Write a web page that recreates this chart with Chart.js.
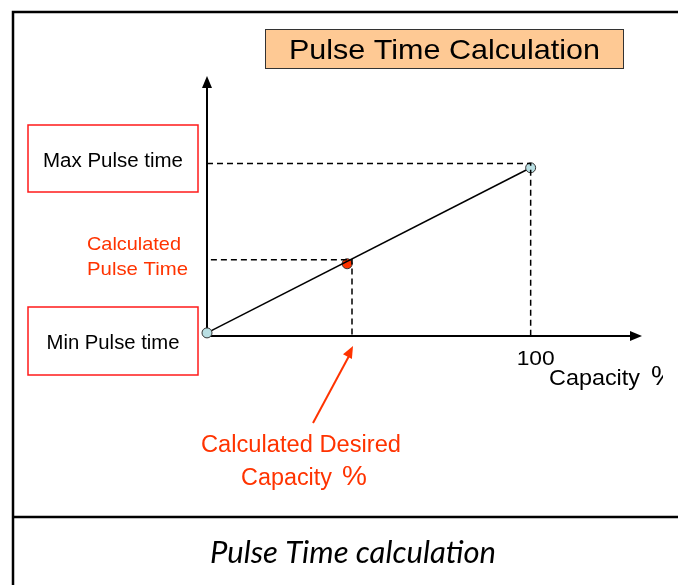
<!DOCTYPE html>
<html>
<head>
<meta charset="utf-8">
<script src="https://cdn.jsdelivr.net/npm/chart.js@4"></script>
<style>
  html, body { margin: 0; padding: 0; background: #fff; }
  canvas { display: block; }
</style>
</head>
<body>
<canvas id="pulseChart" width="678" height="585"></canvas>
<script>
// capacity (%) against pulse time
const capacity = [0, 100];
const pulseTime = [1.2, 65.2];
const desiredCapacity = [43.3];
const calculatedPulse = [28];
// dashed guide levels
const maxGuideY = 66.9;
const calcGuideY = 29.6;
const calcGuideX = 44.8;
const xTickLabel = "100";

const ARIAL = '"Liberation Sans", Arial, sans-serif';
const RED = "#ff3300";

// text squeezed/stretched to a given width, drawn on its baseline
function fitText(ctx, text, x, y, width, font, align) {
  ctx.save();
  ctx.font = font;
  ctx.textAlign = "left";
  ctx.textBaseline = "alphabetic";
  const w = ctx.measureText(text).width;
  let left = x;
  if (align === "center") left = x - width / 2;
  ctx.translate(left, y);
  ctx.scale(width / w, 1);
  ctx.fillText(text, 0, 0);
  ctx.restore();
}

function arrowHead(ctx, x1, y1, x2, y2, len, half) {
  const a = Math.atan2(y2 - y1, x2 - x1);
  ctx.beginPath();
  ctx.moveTo(x2, y2);
  ctx.lineTo(x2 - len * Math.cos(a) + half * Math.sin(a), y2 - len * Math.sin(a) - half * Math.cos(a));
  ctx.lineTo(x2 - len * Math.cos(a) - half * Math.sin(a), y2 - len * Math.sin(a) + half * Math.cos(a));
  ctx.closePath();
  ctx.fill();
}

function labelBox(ctx, x, y, w, h, text, textW, baseline) {
  ctx.strokeStyle = "#ff1a1a";
  ctx.lineWidth = 1.5;
  ctx.strokeRect(x, y, w, h);
  ctx.fillStyle = "#000";
  fitText(ctx, text, x + w / 2, baseline, textW, "19.5px " + ARIAL, "center");
}

const frame = {
  id: "frame",
  beforeDraw(chart) {
    const ctx = chart.ctx;
    ctx.save();
    // outer border and caption separator
    ctx.strokeStyle = "#000";
    ctx.lineWidth = 2.5;
    ctx.beginPath();
    ctx.moveTo(13, 585);
    ctx.lineTo(13, 12);
    ctx.lineTo(678, 12);
    ctx.moveTo(13, 517);
    ctx.lineTo(678, 517);
    ctx.stroke();

    // title box
    ctx.fillStyle = "#fec994";
    ctx.fillRect(265, 29, 358, 39);
    ctx.strokeStyle = "#333";
    ctx.lineWidth = 1;
    ctx.strokeRect(265.5, 29.5, 358, 39);
    ctx.fillStyle = "#000";
    fitText(ctx, "Pulse Time Calculation", 444.5, 59, 311, "28px " + ARIAL, "center");

    labelBox(ctx, 28, 125, 170, 67, "Max Pulse time", 140, 167);
    labelBox(ctx, 28, 307, 170, 68, "Min Pulse time", 133, 348.5);

    ctx.fillStyle = RED;
    fitText(ctx, "Calculated", 87, 249.5, 94, "19px " + ARIAL, "left");
    fitText(ctx, "Pulse Time", 87, 275, 101, "19px " + ARIAL, "left");

    // caption
    ctx.fillStyle = "#000";
    fitText(ctx, "Pulse Time calculation", 353, 563, 286, "italic 30px Lato, sans-serif", "center");
    ctx.restore();
  },
  beforeDatasetsDraw(chart) {
    const ctx = chart.ctx;
    const xs = chart.scales.x, ys = chart.scales.y;
    const ox = xs.getPixelForValue(0), oy = ys.getPixelForValue(0);
    const xEnd = xs.right, yEnd = ys.top;
    ctx.save();
    ctx.strokeStyle = "#000";
    ctx.fillStyle = "#000";
    ctx.lineWidth = 2;
    ctx.beginPath();
    ctx.moveTo(ox, oy);
    ctx.lineTo(xEnd - 6, oy);
    ctx.moveTo(ox, oy);
    ctx.lineTo(ox, yEnd + 6);
    ctx.stroke();
    arrowHead(ctx, ox, oy, xEnd, oy, 12, 5);
    arrowHead(ctx, ox, oy, ox, yEnd - 2, 12, 5);

    // x tick label and axis title
    const x100 = xs.getPixelForValue(100);
    fitText(ctx, xTickLabel, x100 + 5, oy + 29, 38, "21px " + ARIAL, "center");
    ctx.beginPath();
    ctx.rect(0, 0, 663, 585);
    ctx.clip();
    fitText(ctx, "Capacity", 549, 385, 91, "22px " + ARIAL, "left");
    ctx.font = "28px " + ARIAL;
    ctx.textAlign = "left";
    ctx.textBaseline = "alphabetic";
    ctx.fillText("%", 651, 385);
    ctx.restore();

    // red pointer to the desired capacity
    ctx.save();
    const px = xs.getPixelForValue(calcGuideX);
    ctx.strokeStyle = RED;
    ctx.fillStyle = RED;
    ctx.lineWidth = 2;
    ctx.beginPath();
    ctx.moveTo(313, 423);
    ctx.lineTo(px - 3, oy + 20);
    ctx.stroke();
    arrowHead(ctx, 313, 423, px + 1, oy + 10, 12, 5);
    fitText(ctx, "Calculated Desired", 301, 452, 200, "23px " + ARIAL, "center");
    fitText(ctx, "Capacity", 241, 485, 91, "23px " + ARIAL, "left");
    ctx.font = "28px " + ARIAL;
    ctx.textAlign = "left";
    ctx.textBaseline = "alphabetic";
    ctx.fillText("%", 342, 485);
    ctx.restore();
  }
};

const dash = [6, 4];
new Chart(document.getElementById("pulseChart").getContext("2d"), {
  type: "scatter",
  data: {
    datasets: [
      {
        label: "Max guide",
        data: [{ x: 0, y: maxGuideY }, { x: capacity[1], y: maxGuideY }, { x: capacity[1], y: 0 }],
        showLine: true,
        borderColor: "#000",
        borderWidth: 1.5,
        borderDash: dash,
        pointRadius: 0,
        clip: false
      },
      {
        label: "Calculated guide",
        data: [{ x: 1.2, y: calcGuideY }, { x: calcGuideX, y: calcGuideY }, { x: calcGuideX, y: 0 }],
        showLine: true,
        borderColor: "#000",
        borderWidth: 1.5,
        borderDash: dash,
        pointRadius: 0,
        clip: false
      },
      {
        label: "Pulse time",
        data: capacity.map((c, i) => ({ x: c, y: pulseTime[i] })),
        showLine: true,
        borderColor: "#000",
        borderWidth: 1.5,
        pointRadius: 5,
        pointBackgroundColor: "#b9dfe3",
        pointBorderColor: "#333",
        pointBorderWidth: 1,
        clip: false
      },
      {
        label: "Calculated",
        data: desiredCapacity.map((c, i) => ({ x: c, y: calculatedPulse[i] })),
        pointRadius: 5,
        pointBackgroundColor: RED,
        pointBorderColor: "#333",
        pointBorderWidth: 1,
        clip: false
      }
    ]
  },
  options: {
    responsive: false,
    animation: false,
    events: [],
    layout: { padding: { left: 207, right: 36, top: 78, bottom: 249 } },
    plugins: { legend: { display: false }, tooltip: { enabled: false } },
    scales: {
      x: { type: "linear", min: 0, max: 134.4, display: false },
      y: { type: "linear", min: 0, max: 100, display: false }
    }
  },
  plugins: [frame]
});
</script>
</body>
</html>
